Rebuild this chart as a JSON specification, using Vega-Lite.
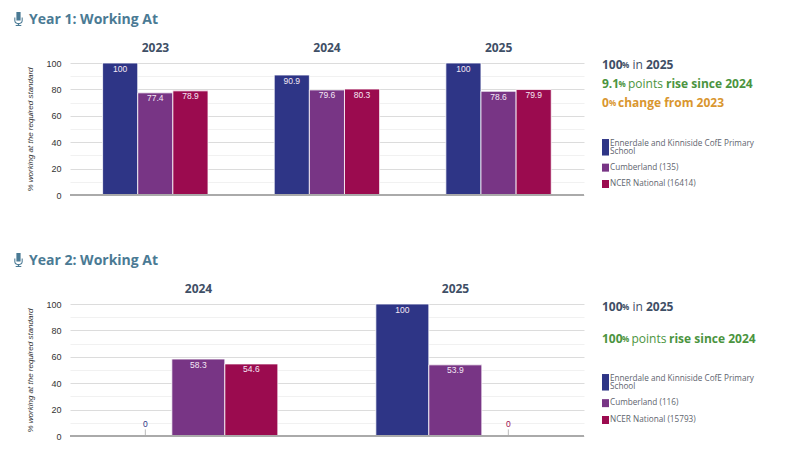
{"$schema":"https://vega.github.io/schema/vega-lite/v6.json","padding":{"left":14,"top":12,"right":0,"bottom":0},"background":"white","config":{"view":{"stroke":null},"text":{"font":"Open Sans"},"axis":{"labelFont":"Liberation Sans"}},"spacing":53,"resolve":{"scale":{"color":"independent","xOffset":"independent"}},"vconcat":[{"spacing":17,"resolve":{"scale":{"color":"independent","xOffset":"independent"}},"hconcat":[{"width":514,"height":132,"title":{"text":"Year 1: Working At","anchor":"start","frame":"group","dx":-41,"dy":1,"offset":-14,"font":"Open Sans","fontSize":14,"fontWeight":"bold","color":"#4a7a94"},"data":{"values":[{"year":"2023","series":"Ennerdale and Kinniside CofE Primary School","value":100},{"year":"2023","series":"Cumberland (135)","value":77.4},{"year":"2023","series":"NCER National (16414)","value":78.9},{"year":"2024","series":"Ennerdale and Kinniside CofE Primary School","value":90.9},{"year":"2024","series":"Cumberland (135)","value":79.6},{"year":"2024","series":"NCER National (16414)","value":80.3},{"year":"2025","series":"Ennerdale and Kinniside CofE Primary School","value":100},{"year":"2025","series":"Cumberland (135)","value":78.6},{"year":"2025","series":"NCER National (16414)","value":79.9}]},"encoding":{"x":{"field":"year","type":"nominal","scale":{"paddingInner":0.385,"paddingOuter":0.19},"axis":{"orient":"top","title":null,"domain":false,"ticks":false,"labelAngle":0,"labelFont":"Open Sans","labelFontSize":12,"labelFontWeight":"bold","labelColor":"#3f4f66","labelPadding":9}},"xOffset":{"field":"series","type":"nominal","scale":{"domain":["Ennerdale and Kinniside CofE Primary School","Cumberland (135)","NCER National (16414)"],"range":[0,105.4],"paddingInner":0,"paddingOuter":0}},"y":{"field":"value","type":"quantitative","scale":{"domain":[0,100]},"axis":{"values":[0,10,20,30,40,50,60,70,80,90,100],"labelExpr":"datum.value%20==0?datum.label:''","title":"% working at the required standard","titleFont":"Liberation Sans","titleFontSize":8,"titleFontStyle":"italic","titleFontWeight":"normal","titleColor":"#333333","titlePadding":11,"domain":false,"ticks":false,"labelFontSize":9,"labelColor":"#333333","labelPadding":9,"grid":true,"gridColor":{"condition":{"test":"datum.value%20==0","value":"#dcdcdc"},"value":"#f1f1f1"}}}},"layer":[{"mark":{"type":"bar","stroke":"white","strokeWidth":0.8},"encoding":{"color":{"field":"series","type":"nominal","legend":null,"scale":{"domain":["Ennerdale and Kinniside CofE Primary School","Cumberland (135)","NCER National (16414)"],"range":["#2e3586","#783585","#9b0b4f"]}}}},{"mark":{"type":"text","font":"Liberation Sans","fontSize":8.5,"baseline":"top","dy":1.5,"color":"#f5e8f5"},"encoding":{"text":{"field":"value","type":"quantitative"}}},{"data":{"values":[{"baseline":0}]},"mark":{"type":"rule","color":"#aaaaaa","strokeWidth":2},"encoding":{"x":{},"xOffset":{},"y":{"field":"baseline","type":"quantitative"}}},{"data":{"values":[{"icon":"microphone"}]},"mark":{"type":"point","filled":true,"opacity":1,"color":"#4a7a94","size":196,"x":-51.5,"y":-44,"shape":"M-0.3,-1 H0.3 V0.2 H-0.3 Z M-0.6,-0.2 V0.25 C-0.6,0.6 -0.3,0.7 -0.1,0.72 V0.85 H-0.4 V1 H0.4 V0.85 H0.1 V0.72 C0.3,0.7 0.6,0.6 0.6,0.25 V-0.2 H0.45 V0.25 C0.45,0.5 0.2,0.58 0,0.58 C-0.2,0.58 -0.45,0.5 -0.45,0.25 V-0.2 Z"},"encoding":{"x":{},"xOffset":{},"y":{}}}]},{"width":198,"height":132,"encoding":{"y":{"field":"row","type":"ordinal","scale":{"type":"point","domain":["a","b","c","d","e","f","g","h"],"padding":0},"axis":null},"text":{"field":"text"}},"layer":[{"data":{"values":[{"row":"a","text":"100"}]},"mark":{"type":"text","x":0,"yOffset":2,"align":"left","fontSize":12,"fontWeight":"bold","color":"#3f4f66"}},{"data":{"values":[{"row":"a","text":"%"}]},"mark":{"type":"text","x":20,"yOffset":3,"align":"left","fontSize":8,"fontWeight":"bold","color":"#3f4f66"}},{"data":{"values":[{"row":"a","text":"in"}]},"mark":{"type":"text","x":30.5,"yOffset":2,"align":"left","fontSize":12,"color":"#3f4f66"}},{"data":{"values":[{"row":"a","text":"2025"}]},"mark":{"type":"text","x":44,"yOffset":2,"align":"left","fontSize":12,"fontWeight":"bold","color":"#3f4f66"}},{"data":{"values":[{"row":"b","text":"9.1"}]},"mark":{"type":"text","x":0,"yOffset":2,"align":"left","fontSize":12,"fontWeight":"bold","color":"#4b9440"}},{"data":{"values":[{"row":"b","text":"%"}]},"mark":{"type":"text","x":16.5,"yOffset":3,"align":"left","fontSize":8,"fontWeight":"bold","color":"#4b9440"}},{"data":{"values":[{"row":"b","text":"points"}]},"mark":{"type":"text","x":26,"yOffset":2,"align":"left","fontSize":12,"color":"#4b9440"}},{"data":{"values":[{"row":"b","text":"rise since 2024"}]},"mark":{"type":"text","x":64,"yOffset":2,"align":"left","fontSize":12,"fontWeight":"bold","color":"#4b9440"}},{"data":{"values":[{"row":"c","text":"0"}]},"mark":{"type":"text","x":0,"yOffset":2,"align":"left","fontSize":12,"fontWeight":"bold","color":"#d9962f"}},{"data":{"values":[{"row":"c","text":"%"}]},"mark":{"type":"text","x":7,"yOffset":3,"align":"left","fontSize":8,"fontWeight":"bold","color":"#d9962f"}},{"data":{"values":[{"row":"c","text":"change from 2023"}]},"mark":{"type":"text","x":16,"yOffset":2,"align":"left","fontSize":12,"fontWeight":"bold","color":"#d9962f"}},{"data":{"values":[{"row":"f","text":"Ennerdale and Kinniside CofE Primary\nSchool"}]},"layer":[{"mark":{"type":"tick","orient":"vertical","thickness":7,"size":16.5,"yOffset":-10,"color":"#2e3586","opacity":1},"encoding":{"x":{"value":3.5},"text":{}}},{"mark":{"type":"text","x":8,"yOffset":-13,"align":"left","fontSize":8.2,"lineBreak":"\n","lineHeight":8.2,"color":"#60646e"}}]},{"data":{"values":[{"row":"g","text":"Cumberland (135)"}]},"layer":[{"mark":{"type":"tick","orient":"vertical","thickness":7,"size":8,"yOffset":-8.5,"color":"#783585","opacity":1},"encoding":{"x":{"value":3.5},"text":{}}},{"mark":{"type":"text","x":8,"yOffset":-8.5,"align":"left","fontSize":8.2,"color":"#60646e"}}]},{"data":{"values":[{"row":"h","text":"NCER National (16414)"}]},"layer":[{"mark":{"type":"tick","orient":"vertical","thickness":7,"size":8,"yOffset":-11,"color":"#9b0b4f","opacity":1},"encoding":{"x":{"value":3.5},"text":{}}},{"mark":{"type":"text","x":8,"yOffset":-11,"align":"left","fontSize":8.2,"color":"#60646e"}}]}]}]},{"spacing":17,"resolve":{"scale":{"color":"independent","xOffset":"independent"}},"hconcat":[{"width":514,"height":132,"title":{"text":"Year 2: Working At","anchor":"start","frame":"group","dx":-41,"dy":1,"offset":-14,"font":"Open Sans","fontSize":14,"fontWeight":"bold","color":"#4a7a94"},"data":{"values":[{"year":"2024","series":"Ennerdale and Kinniside CofE Primary School","value":0},{"year":"2024","series":"Cumberland (116)","value":58.3},{"year":"2024","series":"NCER National (15793)","value":54.6},{"year":"2025","series":"Ennerdale and Kinniside CofE Primary School","value":100},{"year":"2025","series":"Cumberland (116)","value":53.9},{"year":"2025","series":"NCER National (15793)","value":0}]},"encoding":{"x":{"field":"year","type":"nominal","scale":{"paddingInner":0.38,"paddingOuter":0.19},"axis":{"orient":"top","title":null,"domain":false,"ticks":false,"labelAngle":0,"labelFont":"Open Sans","labelFontSize":12,"labelFontWeight":"bold","labelColor":"#3f4f66","labelPadding":9}},"xOffset":{"field":"series","type":"nominal","scale":{"domain":["Ennerdale and Kinniside CofE Primary School","Cumberland (116)","NCER National (15793)"],"range":[0,159],"paddingInner":0,"paddingOuter":0}},"y":{"field":"value","type":"quantitative","scale":{"domain":[0,100]},"axis":{"values":[0,10,20,30,40,50,60,70,80,90,100],"labelExpr":"datum.value%20==0?datum.label:''","title":"% working at the required standard","titleFont":"Liberation Sans","titleFontSize":8,"titleFontStyle":"italic","titleFontWeight":"normal","titleColor":"#333333","titlePadding":11,"domain":false,"ticks":false,"labelFontSize":9,"labelColor":"#333333","labelPadding":9,"grid":true,"gridColor":{"condition":{"test":"datum.value%20==0","value":"#dcdcdc"},"value":"#f1f1f1"}}},"color":{"field":"series","type":"nominal","legend":null,"scale":{"domain":["Ennerdale and Kinniside CofE Primary School","Cumberland (116)","NCER National (15793)"],"range":["#2e3586","#783585","#9b0b4f"]}}},"layer":[{"mark":{"type":"bar","stroke":"white","strokeWidth":0.8}},{"transform":[{"filter":"datum.value>0"}],"mark":{"type":"text","font":"Liberation Sans","fontSize":8.5,"baseline":"top","dy":1.5},"encoding":{"color":{"value":"#f5e8f5"},"text":{"field":"value","type":"quantitative"}}},{"transform":[{"filter":"datum.value==0"}],"mark":{"type":"rule","strokeWidth":1},"encoding":{"color":{"value":"#bbbbbb"},"y2":{"datum":5}}},{"transform":[{"filter":"datum.value==0"}],"mark":{"type":"text","font":"Liberation Sans","fontSize":8.5,"baseline":"bottom","dy":-7},"encoding":{"text":{"field":"value","type":"quantitative"}}},{"data":{"values":[{"baseline":0}]},"mark":{"type":"rule","strokeWidth":2},"encoding":{"x":{},"xOffset":{},"color":{"value":"#aaaaaa"},"y":{"field":"baseline","type":"quantitative"}}},{"data":{"values":[{"icon":"microphone"}]},"mark":{"type":"point","filled":true,"opacity":1,"size":196,"x":-51.5,"y":-44,"shape":"M-0.3,-1 H0.3 V0.2 H-0.3 Z M-0.6,-0.2 V0.25 C-0.6,0.6 -0.3,0.7 -0.1,0.72 V0.85 H-0.4 V1 H0.4 V0.85 H0.1 V0.72 C0.3,0.7 0.6,0.6 0.6,0.25 V-0.2 H0.45 V0.25 C0.45,0.5 0.2,0.58 0,0.58 C-0.2,0.58 -0.45,0.5 -0.45,0.25 V-0.2 Z"},"encoding":{"x":{},"xOffset":{},"y":{},"color":{"value":"#4a7a94"}}}]},{"width":198,"height":132,"encoding":{"y":{"field":"row","type":"ordinal","scale":{"type":"point","domain":["a","b","c","d","e","f","g","h"],"padding":0},"axis":null},"text":{"field":"text"}},"layer":[{"data":{"values":[{"row":"a","text":"100"}]},"mark":{"type":"text","x":0,"yOffset":3,"align":"left","fontSize":12,"fontWeight":"bold","color":"#3f4f66"}},{"data":{"values":[{"row":"a","text":"%"}]},"mark":{"type":"text","x":20,"yOffset":4,"align":"left","fontSize":8,"fontWeight":"bold","color":"#3f4f66"}},{"data":{"values":[{"row":"a","text":"in"}]},"mark":{"type":"text","x":30.5,"yOffset":3,"align":"left","fontSize":12,"color":"#3f4f66"}},{"data":{"values":[{"row":"a","text":"2025"}]},"mark":{"type":"text","x":44,"yOffset":3,"align":"left","fontSize":12,"fontWeight":"bold","color":"#3f4f66"}},{"data":{"values":[{"row":"c","text":"100"}]},"mark":{"type":"text","x":0,"yOffset":-3,"align":"left","fontSize":12,"fontWeight":"bold","color":"#4b9440"}},{"data":{"values":[{"row":"c","text":"%"}]},"mark":{"type":"text","x":20,"yOffset":-2,"align":"left","fontSize":8,"fontWeight":"bold","color":"#4b9440"}},{"data":{"values":[{"row":"c","text":"points"}]},"mark":{"type":"text","x":29.5,"yOffset":-3,"align":"left","fontSize":12,"color":"#4b9440"}},{"data":{"values":[{"row":"c","text":"rise since 2024"}]},"mark":{"type":"text","x":67,"yOffset":-3,"align":"left","fontSize":12,"fontWeight":"bold","color":"#4b9440"}},{"data":{"values":[{"row":"f","text":"Ennerdale and Kinniside CofE Primary\nSchool"}]},"layer":[{"mark":{"type":"tick","orient":"vertical","thickness":7,"size":16.5,"yOffset":-16,"color":"#2e3586","opacity":1},"encoding":{"x":{"value":3.5},"text":{}}},{"mark":{"type":"text","x":8,"yOffset":-19,"align":"left","fontSize":8.2,"lineBreak":"\n","lineHeight":8.2,"color":"#60646e"}}]},{"data":{"values":[{"row":"g","text":"Cumberland (116)"}]},"layer":[{"mark":{"type":"tick","orient":"vertical","thickness":7,"size":8,"yOffset":-14,"color":"#783585","opacity":1},"encoding":{"x":{"value":3.5},"text":{}}},{"mark":{"type":"text","x":8,"yOffset":-14,"align":"left","fontSize":8.2,"color":"#60646e"}}]},{"data":{"values":[{"row":"h","text":"NCER National (15793)"}]},"layer":[{"mark":{"type":"tick","orient":"vertical","thickness":7,"size":8,"yOffset":-16,"color":"#9b0b4f","opacity":1},"encoding":{"x":{"value":3.5},"text":{}}},{"mark":{"type":"text","x":8,"yOffset":-16,"align":"left","fontSize":8.2,"color":"#60646e"}}]}]}]}]}
